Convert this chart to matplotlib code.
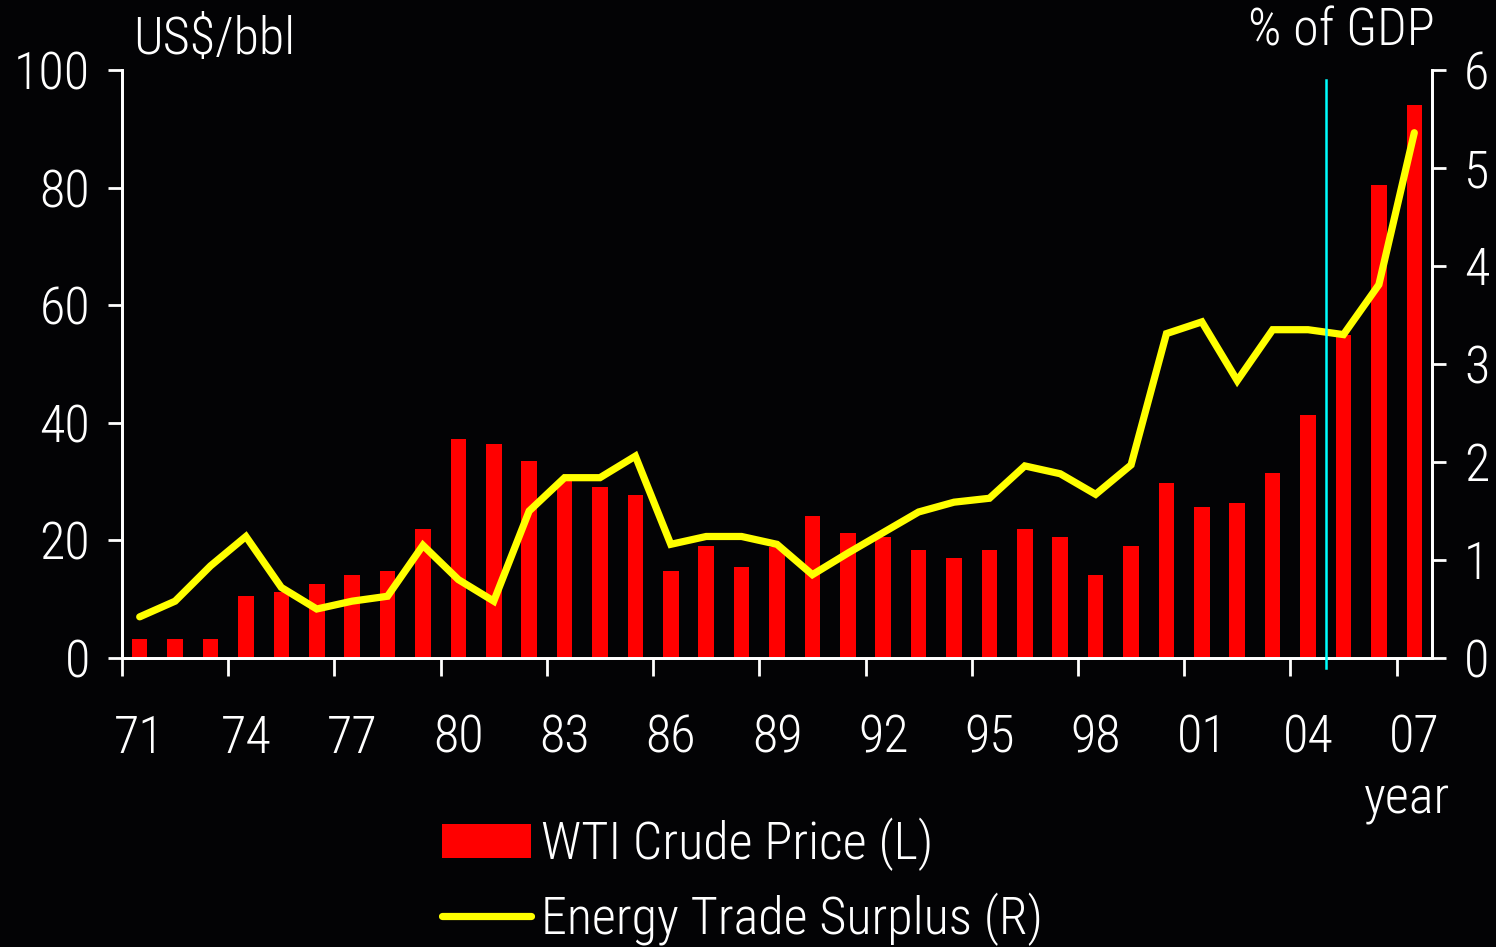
import numpy as np
import matplotlib
matplotlib.use("Agg")
import matplotlib.pyplot as plt
from matplotlib.patches import Patch
from matplotlib.lines import Line2D

plt.rcParams['font.family'] = ['Roboto Condensed', 'Asap Condensed', 'Liberation Sans', 'DejaVu Sans']
plt.rcParams['font.weight'] = 'light'

# data
years = ["71", "72", "73", "74", "75", "76", "77", "78", "79", "80",
         "81", "82", "83", "84", "85", "86", "87", "88", "89", "90",
         "91", "92", "93", "94", "95", "96", "97", "98", "99", "00",
         "01", "02", "03", "04", "05", "06", "07"]
wti_price = [3.3, 3.3, 3.3, 10.5, 11.3, 12.6, 14.1, 14.8, 22.0, 37.2,
             36.4, 33.5, 30.2, 29.1, 27.8, 14.8, 19.1, 15.5, 18.8, 24.2,
             21.3, 20.6, 18.4, 17.0, 18.4, 22.0, 20.6, 14.1, 19.1, 29.8,
             25.6, 26.3, 31.4, 41.4, 54.9, 80.5, 94.1]
trade_surplus = [0.42, 0.58, 0.94, 1.24, 0.72, 0.50, 0.58, 0.63, 1.15, 0.80,
                 0.58, 1.50, 1.84, 1.84, 2.06, 1.16, 1.24, 1.24, 1.16, 0.85,
                 1.07, 1.28, 1.49, 1.59, 1.63, 1.96, 1.88, 1.67, 1.97, 3.31,
                 3.43, 2.83, 3.35, 3.35, 3.30, 3.81, 5.36]
marker_year = "04"   # vertical marker sits between 04 and 05

bg = "#030305"
fg = "white"
fs = 37.5

fig = plt.figure(figsize=(14.96, 9.47), dpi=100, facecolor=bg)
ax = fig.add_axes([122 / 1496, 1 - 658 / 947, 1310 / 1496, 588 / 947])
ax.set_facecolor(bg)
ax2 = ax.twinx()

x = np.arange(len(years))
ax.bar(x, wti_price, width=0.44, color="#ff0000", zorder=2)
ax.set_xlim(-0.5, len(years) - 0.5)
ax.set_ylim(0, 100)
ax.set_yticks(range(0, 101, 20))

ax2.plot(x, trade_surplus, color="#ffff00", lw=5.2, solid_capstyle="round",
         solid_joinstyle="miter", zorder=3)
ax2.set_ylim(0, 6)
ax2.set_yticks(range(0, 7))

# cyan marker between 04 and 05
mx = years.index(marker_year) + 0.5
ax2.plot([mx, mx], [-0.1, 5.9], color="#00ffff", lw=1.8, clip_on=False, zorder=4)

# x ticks at the boundaries, labels at the centres
ax.set_xticks(np.arange(-0.5, len(years), 3))
ax.set_xticklabels([])
ax.tick_params(axis="x", which="major", length=13, width=2, color=fg)
ax.set_xticks(x[::3], minor=True)
ax.set_xticklabels(years[::3], minor=True)
ax.tick_params(axis="x", which="minor", length=0, pad=40, labelsize=fs, labelcolor=fg)

ax.tick_params(axis="y", length=10, width=2, color=fg, labelsize=fs,
               labelcolor=fg, pad=13)
ax2.tick_params(axis="y", length=10, width=2, color=fg, labelsize=fs,
                labelcolor=fg, pad=13)

for a in (ax, ax2):
    a.spines["top"].set_visible(False)
    for s in ("left", "right", "bottom"):
        a.spines[s].set_color(fg)
        a.spines[s].set_linewidth(2)

fig.text(133 / 1496, 1 - 40 / 947, "US$/bbl", color=fg, fontsize=fs,
         ha="left", va="center")
fig.text(1435 / 1496, 1 - 32 / 947, "% of GDP", color=fg, fontsize=fs,
         ha="right", va="center")
fig.text(1450 / 1496, 1 - 800 / 947, "year", color=fg, fontsize=fs,
         ha="right", va="center")

handles = [Patch(facecolor="#ff0000", edgecolor="none"),
           Line2D([], [], color="#ffff00", lw=5.2, solid_capstyle="round")]
leg = fig.legend(handles, ["WTI Crude Price (L)", "Energy Trade Surplus (R)"],
                 loc="upper left", bbox_to_anchor=(442 / 1496, 1 - 818 / 947),
                 frameon=False, fontsize=fs, handlelength=1.7, handleheight=0.62,
                 handletextpad=0.2, labelspacing=0.4, borderpad=0,
                 borderaxespad=0)
for t in leg.get_texts():
    t.set_color(fg)

fig.savefig("out.png", dpi=100, facecolor=bg)
